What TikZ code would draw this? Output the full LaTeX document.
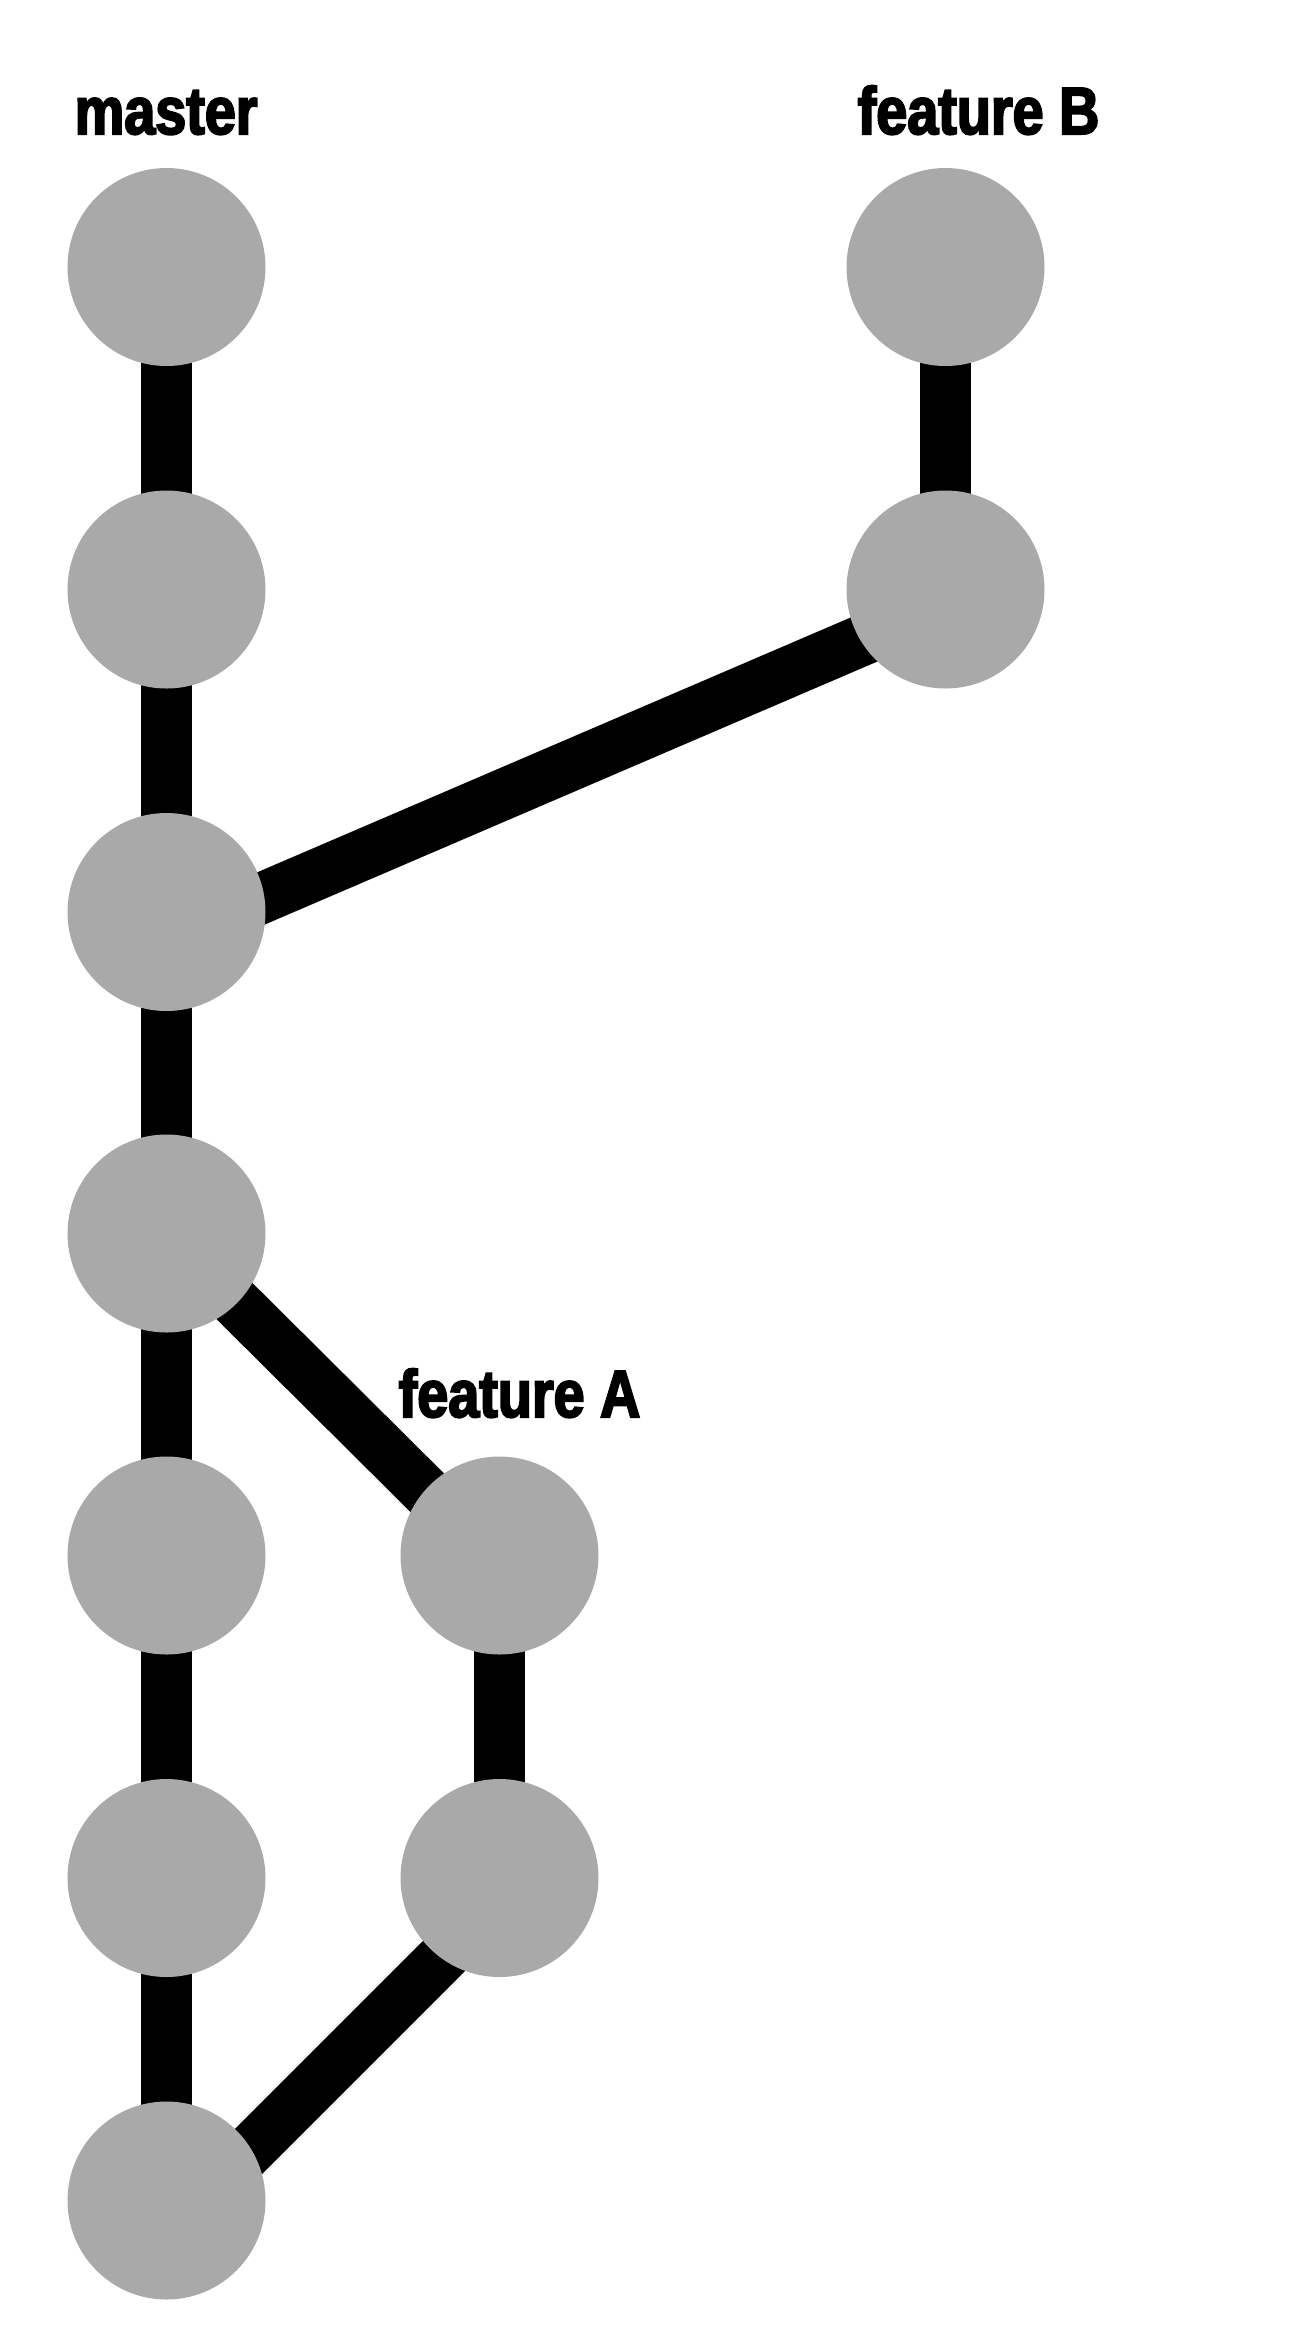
\documentclass[tikz,border=0pt]{standalone}
\usepackage{fontspec}
\usetikzlibrary{backgrounds}
\newfontfamily\branchfont{Liberation Sans}[FakeStretch=0.835,BoldFeatures={FakeBold=3}]
\begin{document}
\begin{tikzpicture}[x=1cm, y=1cm,
    commit/.style={circle, fill=commitgray, inner sep=0pt, minimum size=1.98cm},
    branch/.style={font=\branchfont\bfseries\fontsize{19pt}{20pt}\selectfont, anchor=base west, inner sep=0pt},
    link/.style={line width=0.51cm}]
        \definecolor{commitgray}{RGB}{169,169,169}
        \useasboundingbox (0,0) rectangle (12.96,-23.52);
        % master
        \node[commit] (m1) at (1.665,-2.67) {};
        \node[commit] (m2) at (1.665,-5.895) {};
        \node[commit] (m3) at (1.665,-9.12) {};
        \node[commit] (m4) at (1.665,-12.335) {};
        \node[commit] (m5) at (1.665,-15.555) {};
        \node[commit] (m6) at (1.665,-18.78) {};
        \node[commit] (m7) at (1.665,-22.005) {};
        % feature B
        \node[commit] (b1) at (9.455,-2.67) {};
        \node[commit] (b2) at (9.455,-5.895) {};
        % feature A
        \node[commit] (a1) at (4.995,-15.555) {};
        \node[commit] (a2) at (4.995,-18.78) {};
        \node[branch] (lmaster) at (0.74,-1.34) {master};
        \node[branch] (lfeatB) at (8.57,-1.34) {feature B};
        \node[branch] (lfeatA) at (3.98,-14.17) {feature A};
        \begin{scope}[on background layer]
          \draw[link] (m1.center) -- (m2.center) -- (m3.center) -- (m4.center)
            -- (m5.center) -- (m6.center) -- (m7.center);
          \draw[link] (b1.center) -- (b2.center);
          \draw[link] ([yshift=-0.15cm]b2.center) -- ([yshift=-0.27cm]m3.center);
          \draw[link] (m4.center) -- ([yshift=-0.09cm]a1.center);
          \draw[link] (a1.center) -- (a2.center);
          \draw[link] ([yshift=-0.225cm]a2.center) -- ([yshift=-0.33cm]m7.center);
        \end{scope}
      \end{tikzpicture}
\end{document}
